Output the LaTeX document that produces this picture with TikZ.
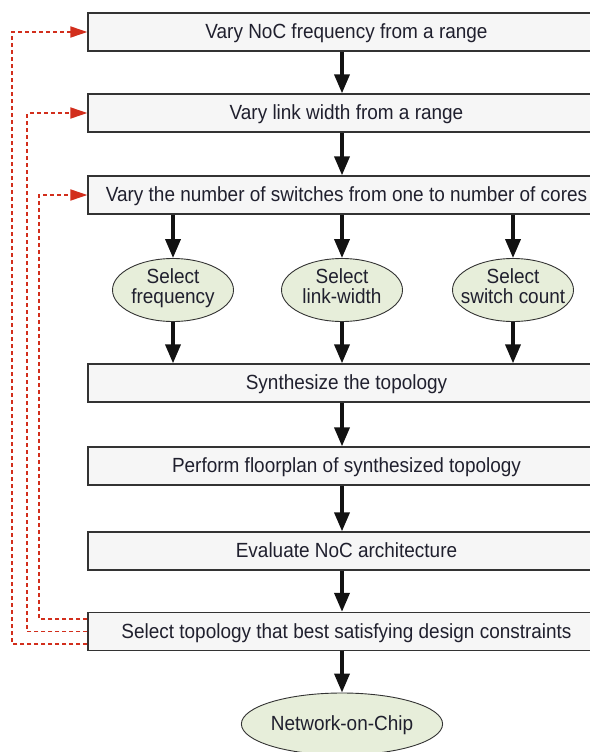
\documentclass[tikz,border=0pt]{standalone}
\usepackage{fontspec}
\setmainfont{Liberation Sans}[FakeStretch=0.925]
\usetikzlibrary{arrows.meta,shapes.geometric}

\definecolor{boxfill}{HTML}{F6F6F6}
\definecolor{boxline}{HTML}{333333}
\definecolor{ovalfill}{HTML}{E7EEDA}
\definecolor{inkcol}{HTML}{20202E}
\definecolor{fbred}{HTML}{D22E1C}

% fixed-height strut for the two-line oval captions
\newcommand\ovstrut{\rule[-4pt]{0pt}{15.5pt}}

\tikzset{
  txt/.style={font=\fontsize{20.5}{17.5}\selectfont, text=inkcol, align=center},
  stepbox/.style={txt, draw=boxline, fill=boxfill, line width=1.3pt,
    minimum width=517pt, minimum height=38pt, inner sep=0pt,
    text height=15.5pt, text depth=2.5pt},
  oval/.style={ellipse, draw=boxline, fill=ovalfill, line width=0.9pt,
    minimum width=121pt, minimum height=63pt, inner sep=0pt},
  caption/.style={txt, yshift=2pt},
  flow/.style={draw=black!93, line width=3.6pt,
    -{Triangle[length=19pt,width=15pt]}},
  fb/.style={draw=fbred, line width=1.8pt, dash pattern=on 4pt off 3pt,
    -{Triangle[length=17pt,width=11pt]}}
}

\begin{document}
\begin{tikzpicture}[x=1pt,y=-1pt]
\useasboundingbox (0,0) rectangle (589,752);

% main chain of steps
\node[stepbox] (b1) at (346.5,32)  {Vary NoC frequency from a range};
\node[stepbox] (b2) at (346.5,113) {Vary link width from a range};
\node[stepbox] (b3) at (346.5,195) {Vary the number of switches from one to number of cores};

% parameter choices
\node[oval, label={[caption]center:\ovstrut Select\\\ovstrut frequency}]     (e1) at (173,290) {};
\node[oval, label={[caption]center:\ovstrut Select\\\ovstrut link-width}]    (e2) at (342,290) {};
\node[oval, label={[caption]center:\ovstrut Select\\\ovstrut switch count}]  (e3) at (513,290) {};

\node[stepbox] (s1) at (346.5,383)   {Synthesize the topology};
\node[stepbox] (s2) at (346.5,466)   {Perform floorplan of synthesized topology};
\node[stepbox] (s3) at (346.5,551)   {Evaluate NoC architecture};
\node[stepbox] (s4) at (346.5,631.5) {Select topology that best satisfying design constraints};

\node[oval, minimum width=199pt, minimum height=62pt, txt,
      text height=14pt, text depth=1pt] (noc) at (342,724) {Network-on-Chip};

% forward flow
\draw[flow] (b1.south -| e2.north) -- (b2.north -| e2.north);
\draw[flow] (b2.south -| e2.north) -- (b3.north -| e2.north);
\draw[flow] (b3.south -| e1.north) -- (e1.north);
\draw[flow] (b3.south -| e2.north) -- (e2.north);
\draw[flow] (b3.south -| e3.north) -- (e3.north);
\draw[flow] (e1.south) -- (s1.north -| e1.south);
\draw[flow] (e2.south) -- (s1.north -| e2.south);
\draw[flow] (e3.south) -- (s1.north -| e3.south);
\draw[flow] (s1.south -| e2.north) -- (s2.north -| e2.north);
\draw[flow] (s2.south -| e2.north) -- (s3.north -| e2.north);
\draw[flow] (s3.south -| e2.north) -- (s4.north -| e2.north);
\draw[flow] (s4.south -| noc.north) -- (noc.north);

% feedback loops
\draw[fb] ([yshift=12.5pt]s4.west) -- ++(-48pt,0) |- (b3.west);
\draw[fb] (s4.west) -- ++(-60pt,0) |- (b2.west);
\draw[fb] ([yshift=-12.5pt]s4.west) -- ++(-75pt,0) |- (b1.west);
\end{tikzpicture}
\end{document}
